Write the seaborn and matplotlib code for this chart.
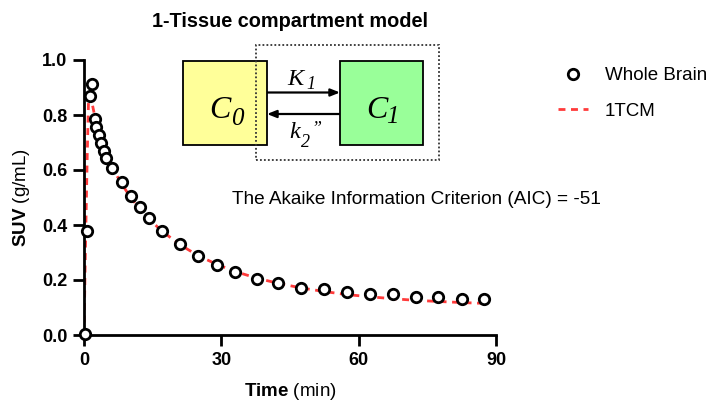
import numpy as np
import pandas as pd
import matplotlib
matplotlib.use("Agg")
import matplotlib.pyplot as plt
import matplotlib.patches as mpatches
from matplotlib.lines import Line2D
import seaborn as sns

sns.set_style("ticks")
plt.rcParams['font.family'] = ['Liberation Sans', 'DejaVu Sans']
plt.rcParams['mathtext.fontset'] = 'custom'
plt.rcParams['mathtext.rm'] = 'Liberation Sans'
plt.rcParams['mathtext.bf'] = 'Liberation Sans:bold'
for key in ['text.color', 'axes.labelcolor', 'xtick.color', 'ytick.color', 'axes.edgecolor']:
    plt.rcParams[key] = 'black'

# ============================================================
#  DATA — measured whole brain SUV and 1TCM fit
# ============================================================

time_min = [0.3, 0.7, 1.25, 1.8, 2.3, 2.7, 3.2, 3.8, 4.3, 4.9, 6.2, 8.2, 10.2,
            12.2, 14.2, 17.1, 21.0, 25.0, 29.0, 33.0, 37.7, 42.4, 47.5, 52.5,
            57.4, 62.5, 67.4, 72.5, 77.4, 82.5, 87.4]
suv_brain = [0.005, 0.378, 0.869, 0.912, 0.786, 0.755, 0.727, 0.697, 0.669, 0.642,
             0.608, 0.558, 0.505, 0.467, 0.427, 0.378, 0.330, 0.286, 0.255, 0.230,
             0.204, 0.188, 0.172, 0.166, 0.155, 0.149, 0.149, 0.139, 0.139, 0.131,
             0.131]

fit_time = [0.0, 0.3, 0.7, 1.0, 1.3, 1.8, 2.3, 3.0, 4.0, 5.0, 6.0, 8.0, 10.0, 12.0,
            14.0, 17.0, 21.0, 25.0, 29.0, 33.0, 37.7, 42.4, 47.5, 52.5, 57.4, 62.5,
            67.4, 72.5, 77.4, 82.5, 87.5]
fit_suv = [0.0, 0.30, 0.65, 0.86, 0.87, 0.84, 0.80, 0.75, 0.70, 0.655, 0.615, 0.555,
           0.505, 0.462, 0.425, 0.378, 0.328, 0.288, 0.257, 0.231, 0.207, 0.188,
           0.171, 0.158, 0.147, 0.139, 0.132, 0.126, 0.122, 0.118, 0.115]

x_ticks = [0, 30, 60, 90]
y_ticks = [0.0, 0.2, 0.4, 0.6, 0.8, 1.0]

df_pts = pd.DataFrame({'time': time_min, 'suv': suv_brain})
df_fit = pd.DataFrame({'time': fit_time, 'suv': fit_suv})

W, H = 711, 403
RED = '#ff3b3b'
DASH = (0, (2.5, 2.0))

# ============================================================
#  PLOT
# ============================================================

fig = plt.figure(figsize=(W / 100, H / 100), dpi=100)
ax = fig.add_axes([84 / W, 1 - 335 / H, (496 - 84) / W, (335 - 60) / H])

sns.lineplot(data=df_fit, x='time', y='suv', ax=ax, color=RED, lw=2,
             linestyle=DASH, zorder=2)
ax.plot(df_pts['time'], df_pts['suv'], 'o', mfc='white', mec='black', mew=2,
        ms=7.5, zorder=3, clip_on=False)

ax.set_xlim(0, 90)
ax.set_ylim(0, 1.0)
ax.set_xticks(x_ticks)
ax.set_yticks(y_ticks)
ax.set_yticklabels([f"{v:.1f}" for v in y_ticks])
sns.despine(ax=ax)
for s in ['left', 'bottom']:
    ax.spines[s].set_linewidth(2)
ax.tick_params(width=2, length=8, labelsize=13, pad=4)
for lab in ax.get_xticklabels() + ax.get_yticklabels():
    lab.set_fontweight('bold')

ax.set_xlabel(r'$\mathbf{Time}$ (min)', fontsize=13.5, labelpad=9)
ax.set_ylabel(r'$\mathbf{SUV}$ (g/mL)', fontsize=13.5, labelpad=7)
ax.set_title('1-Tissue compartment model', fontsize=14.3, fontweight='bold', pad=24)

# legend
handles = [Line2D([], [], marker='o', ls='none', mfc='white', mec='black', mew=2, ms=7.5),
           Line2D([], [], color=RED, lw=2, ls=DASH)]
fig.legend(handles, ['Whole Brain', '1TCM'], loc='upper left',
           bbox_to_anchor=(558 / W, 1 - 67 / H), frameon=False, fontsize=13.5,
           handlelength=1.6, handletextpad=0.9, labelspacing=1.0,
           borderaxespad=0, borderpad=0)


# ============================================================
#  COMPARTMENT DIAGRAM (figure pixel coords)
# ============================================================

def fx(px):
    return px / W


def fy(py):
    return 1 - py / H


def box(x0, y0, x1, y1, **kw):
    fig.patches.append(mpatches.Rectangle((fx(x0), fy(y1)), fx(x1) - fx(x0), fy(y0) - fy(y1),
                                          transform=fig.transFigure, **kw))


def arrow(x_start, x_end, y):
    ax.annotate('', xy=(fx(x_end), fy(y)), xytext=(fx(x_start), fy(y)),
                xycoords='figure fraction', textcoords='figure fraction',
                arrowprops=dict(arrowstyle='-|>,head_length=0.55,head_width=0.22',
                                color='black', lw=1.6, shrinkA=0, shrinkB=0),
                zorder=6)


def serif(x, y, s, size):
    fig.text(fx(x), fy(y), s, fontsize=size, family='Liberation Serif', style='italic',
             ha='left', va='baseline', zorder=7)


box(183, 61, 267, 145, fc='#ffff99', ec='black', lw=1.3, zorder=4)
box(340, 61, 423, 145, fc='#99ff99', ec='black', lw=1.3, zorder=4)
box(256, 45, 439, 160, fill=False, ec='#333333', lw=1.3, ls=(0, (1, 1.2)), zorder=5)
arrow(267, 340, 92.5)
arrow(340, 267, 114)

serif(209, 118, 'C', 23)
serif(231, 125, '0', 18)
serif(366, 118, 'C', 23)
serif(386, 123, '1', 18)
serif(287, 85, 'K', 17.5)
serif(306, 89, '1', 13)
serif(289, 138, 'k', 17.5)
serif(301, 147, '2', 13)
serif(311, 133, '\u201d', 13)

fig.text(fx(416), fy(200), 'The Akaike Information Criterion (AIC) = -51',
         fontsize=13.7, ha='center', va='center')

fig.savefig('out.png', dpi=100)
